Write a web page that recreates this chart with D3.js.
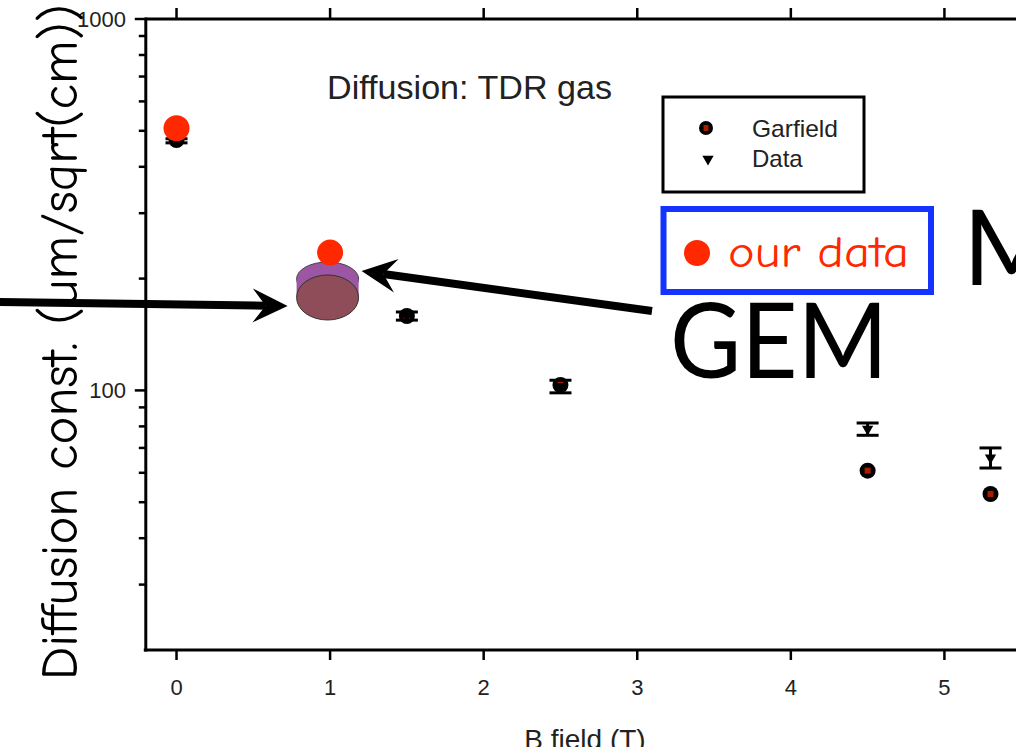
<!DOCTYPE html>
<html>
<head>
<meta charset="utf-8">
<script src="https://cdn.jsdelivr.net/npm/d3@7"></script>
<style>
  html, body { margin: 0; padding: 0; background: #fff; overflow: hidden; }
  svg { display: block; }
</style>
</head>
<body>
<svg id="chart"></svg>
<script>
// Data
const garfieldB = [0, 1.5, 2.5, 4.5, 5.3];
const garfieldD = [472, 158.6, 103.4, 60.8, 52.6];

const dataB = [0, 1.5, 2.5, 4.5, 5.3];
const dataD = [470, 158.6, 102.5, 78.7, 65.9];
const dataErr = [6, 4, 4, 3, 4.1];

const ourB = [0, 1];
const ourD = [508, 235];

const xTicks = [0, 1, 2, 3, 4, 5, 6];
const yMajorTicks = [100, 1000];
const yMinorTicks = [30, 40, 50, 60, 70, 80, 90, 200, 300, 400, 500, 600, 700, 800, 900];

const width = 1016;
const height = 747;

const svg = d3.select("#chart").attr("width", width).attr("height", height);

// scales (plot frame: left 146, top 19, bottom 650)
const x = d3.scaleLinear().domain([-0.2, 6]).range([145.8, 1098]);
const y = d3.scaleLog().domain([20, 1000]).range([650, 19]);

const axisFont = "'Liberation Sans', Arial, sans-serif";
const handFont = "'Comic Sans MS', 'Comic Neue', 'DejaVu Sans', sans-serif";
const gillFont = "'Gill Sans', Lato, 'Open Sans', sans-serif";

// frame lines
const frame = svg.append("g").attr("stroke", "#000").attr("stroke-width", 3);
frame.append("line").attr("x1", x(-0.2)).attr("x2", width + 5).attr("y1", y(1000)).attr("y2", y(1000));
frame.append("line").attr("x1", x(-0.2) - 2).attr("x2", width + 5).attr("y1", y(20)).attr("y2", y(20));
frame.append("line").attr("x1", x(-0.2)).attr("x2", x(-0.2)).attr("y1", y(1000) - 1.5).attr("y2", y(20) + 1.5);

// x ticks bottom and top
const ticks = svg.append("g").attr("stroke", "#000").attr("stroke-width", 2.5);
ticks.selectAll("line.xb").data(xTicks).enter().append("line")
  .attr("x1", (d) => x(d)).attr("x2", (d) => x(d))
  .attr("y1", y(20)).attr("y2", y(20) + 10);
ticks.selectAll("line.xt").data(xTicks).enter().append("line")
  .attr("x1", (d) => x(d)).attr("x2", (d) => x(d))
  .attr("y1", y(1000)).attr("y2", y(1000) - 11);

// y ticks
ticks.selectAll("line.ymaj").data(yMajorTicks).enter().append("line")
  .attr("x1", x(-0.2) - 11).attr("x2", x(-0.2))
  .attr("y1", (d) => y(d)).attr("y2", (d) => y(d));
ticks.selectAll("line.ymin").data(yMinorTicks).enter().append("line")
  .attr("x1", x(-0.2) - 7).attr("x2", x(-0.2))
  .attr("y1", (d) => y(d)).attr("y2", (d) => y(d));

// tick labels
svg.append("g").selectAll("text").data(xTicks.slice(0, 6)).enter().append("text")
  .attr("x", (d) => x(d)).attr("y", 695)
  .attr("text-anchor", "middle")
  .attr("font-family", axisFont).attr("font-size", 22).attr("fill", "#222")
  .text((d) => d);

svg.append("g").selectAll("text").data(yMajorTicks).enter().append("text")
  .attr("x", 126).attr("y", (d) => y(d)).attr("dy", "0.36em")
  .attr("text-anchor", "end")
  .attr("font-family", axisFont).attr("font-size", 22).attr("fill", "#222")
  .text((d) => d);

// axis titles
svg.append("text")
  .attr("x", 585).attr("y", 749)
  .attr("text-anchor", "middle")
  .attr("font-family", axisFont).attr("font-size", 28).attr("fill", "#222")
  .text("B field (T)");

svg.append("text")
  .attr("transform", "translate(77,342) rotate(-90)")
  .attr("text-anchor", "middle")
  .attr("font-family", handFont).attr("font-size", 52).attr("fill", "#000")
  .attr("textLength", 676).attr("lengthAdjust", "spacingAndGlyphs")
  .text("Diffusion const. (um/sqrt(cm))");

// inner title
svg.append("text")
  .attr("x", 327).attr("y", 99)
  .attr("font-family", axisFont).attr("font-size", 34).attr("fill", "#222")
  .attr("textLength", 285).attr("lengthAdjust", "spacingAndGlyphs")
  .text("Diffusion: TDR gas");

// error bars for Data
const dataPts = dataB.map((b, i) => ({ b: b, v: dataD[i], e: dataErr[i] }));
const eb = svg.append("g").attr("stroke", "#000").attr("stroke-width", 3);
eb.selectAll("line.v").data(dataPts).enter().append("line")
  .attr("x1", (d) => x(d.b)).attr("x2", (d) => x(d.b))
  .attr("y1", (d) => y(d.v + d.e)).attr("y2", (d) => y(d.v - d.e));
eb.selectAll("line.t").data(dataPts).enter().append("line")
  .attr("x1", (d) => x(d.b) - 11).attr("x2", (d) => x(d.b) + 11)
  .attr("y1", (d) => y(d.v + d.e)).attr("y2", (d) => y(d.v + d.e));
eb.selectAll("line.b").data(dataPts).enter().append("line")
  .attr("x1", (d) => x(d.b) - 11).attr("x2", (d) => x(d.b) + 11)
  .attr("y1", (d) => y(d.v - d.e)).attr("y2", (d) => y(d.v - d.e));

// Garfield markers
const garfieldPts = garfieldB.map((b, i) => ({ b: b, v: garfieldD[i] }));
const gm = svg.append("g").selectAll("g").data(garfieldPts).enter().append("g")
  .attr("transform", (d) => `translate(${x(d.b)},${y(d.v)})`);
gm.append("circle").attr("r", 8).attr("fill", "#000");
gm.append("rect").attr("x", -3).attr("y", -3).attr("width", 6).attr("height", 6).attr("fill", "#a81c00");

// Data markers (down triangles)
const tri = d3.symbol().type(d3.symbolTriangle).size(55);
svg.append("g").selectAll("path").data(dataPts).enter().append("path")
  .attr("d", tri)
  .attr("transform", (d) => `translate(${x(d.b)},${y(d.v)}) rotate(180)`)
  .attr("fill", "#000");

// legend box
svg.append("rect").attr("x", 663).attr("y", 97).attr("width", 201).attr("height", 95)
  .attr("fill", "none").attr("stroke", "#000").attr("stroke-width", 3);
const lg1 = svg.append("g").attr("transform", "translate(706,128)");
lg1.append("circle").attr("r", 7).attr("fill", "#000");
lg1.append("rect").attr("x", -2.5).attr("y", -3).attr("width", 5).attr("height", 6).attr("fill", "#a81c00");
svg.append("path").attr("d", tri).attr("transform", "translate(708,159) rotate(180)").attr("fill", "#000");
svg.append("text").attr("x", 752).attr("y", 137)
  .attr("font-family", axisFont).attr("font-size", 24).attr("fill", "#222")
  .attr("textLength", 86).attr("lengthAdjust", "spacingAndGlyphs")
  .text("Garfield");
svg.append("text").attr("x", 752).attr("y", 167)
  .attr("font-family", axisFont).attr("font-size", 24).attr("fill", "#222")
  .text("Data");

// GEM disk annotation, sitting at B = 1
const diskX = x(1) - 2.5;
const disk = svg.append("g");
disk.append("ellipse").attr("cx", diskX).attr("cy", 279).attr("rx", 31).attr("ry", 17)
  .attr("fill", "#9c56a3").attr("stroke", "#444").attr("stroke-width", 1);
disk.append("rect").attr("x", diskX - 31).attr("y", 279).attr("width", 62).attr("height", 18)
  .attr("fill", "#9c56a3");
disk.append("ellipse").attr("cx", diskX).attr("cy", 297.5).attr("rx", 31).attr("ry", 22.5)
  .attr("fill", "#8e4d59").attr("stroke", "#333").attr("stroke-width", 1);

// our data (red dots)
const red = "#ff2800";
svg.append("g").selectAll("circle").data(ourB.map((b, i) => ({ b: b, v: ourD[i] }))).enter()
  .append("circle")
  .attr("cx", (d) => x(d.b)).attr("cy", (d) => y(d.v)).attr("r", 13)
  .attr("fill", red);

// arrows
function arrow(x0, y0, x1, y1) {
  const ang = Math.atan2(y1 - y0, x1 - x0);
  const len = 35, half = 17, notch = 22;
  const ca = Math.cos(ang), sa = Math.sin(ang);
  const bx = x1 - len * ca, by = y1 - len * sa;
  const nx = x1 - notch * ca, ny = y1 - notch * sa;
  svg.append("line")
    .attr("x1", x0).attr("y1", y0).attr("x2", nx).attr("y2", ny)
    .attr("stroke", "#000").attr("stroke-width", 8);
  svg.append("path")
    .attr("d", `M${x1},${y1} L${bx - half * sa},${by + half * ca} L${nx},${ny} L${bx + half * sa},${by - half * ca} Z`)
    .attr("fill", "#000");
}
arrow(-5, 302, diskX - 40, 306);
arrow(652, 311, diskX + 34, 271);

// "our data" box
svg.append("rect").attr("x", 663.5).attr("y", 209).attr("width", 267.5).attr("height", 83)
  .attr("fill", "#fff").attr("stroke", "#1433ff").attr("stroke-width", 6);
svg.append("circle").attr("cx", 697).attr("cy", 253).attr("r", 13).attr("fill", red);
svg.append("text").attr("x", 728).attr("y", 267)
  .attr("font-family", handFont).attr("font-size", 44).attr("fill", red)
  .attr("textLength", 181).attr("lengthAdjust", "spacingAndGlyphs")
  .text("our data");

// big annotation text
svg.append("text").attr("x", 963).attr("y", 285)
  .attr("font-family", gillFont).attr("font-size", 104).attr("fill", "#000")
  .text("M");
svg.append("text").attr("x", 670).attr("y", 378)
  .attr("font-family", gillFont).attr("font-size", 104).attr("fill", "#000")
  .attr("textLength", 218).attr("lengthAdjust", "spacingAndGlyphs")
  .text("GEM");
</script>
</body>
</html>
